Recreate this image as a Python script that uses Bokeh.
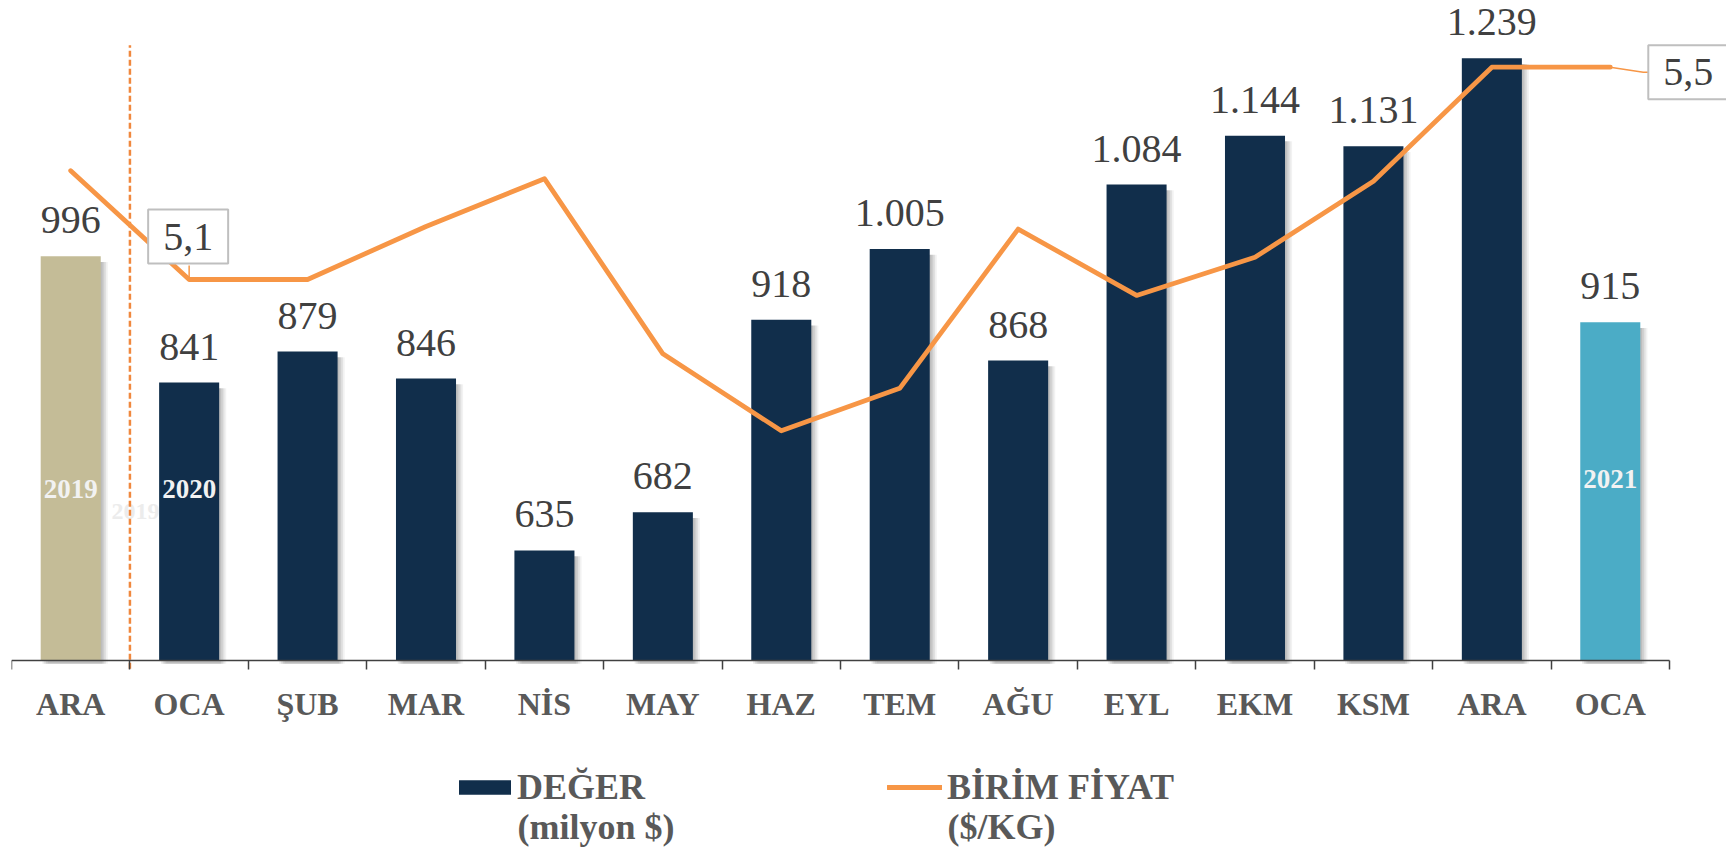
import numpy as np
from bokeh.plotting import figure
from bokeh.models import (Range1d, LinearAxis, FixedTicker, ColumnDataSource,
                          Legend, LegendItem, Label)
from bokeh.core.properties import value
from bokeh.embed import file_html
from bokeh.resources import INLINE

# ---------------- data ----------------
months = ["ARA", "OCA", "ŞUB", "MAR", "NİS", "MAY", "HAZ", "TEM",
          "AĞU", "EYL", "EKM", "KSM", "ARA", "OCA"]
values = [996, 841, 879, 846, 635, 682, 918, 1005, 868, 1084, 1144, 1131, 1239, 915]
prices = [5.305, 5.10, 5.10, 5.20, 5.29, 4.96, 4.815, 4.895, 5.195, 5.07, 5.142, 5.285, 5.50, 5.50]
bar_colors = ["#c4bc97"] + ["#112e4b"] * 12 + ["#4bacc6"]
year_labels = ["2019", "2020", "2021"]
year_label_index = [0, 1, 13]
year_label_y = [711, 711, 723]
labeled_price_index = [1, 13]
value_series_name = "DEĞER\n(milyon $)"
price_series_name = "BİRİM FİYAT\n($/KG)"

FONT = "Liberation Serif"
NAVY_TXT = "#404040"
AXIS_TXT = "#595959"
ORANGE = "#f79646"

n = len(months)
xs = np.arange(n) + 0.5
BASE = 500
H = 850
Y_LO, Y_HI = 500 - (H - 660) / 0.815, 1300
P_LO, P_HI = 5.1 - (H - 279) / 530.8, 5.6106
X_HI = n + 57 / (1658 / n)
PX_X = 1658 / n                       # screen px per x unit
PX_P = (H - 8) / (P_HI - P_LO)        # screen px per price unit

p = figure(width=1726, height=H, x_range=Range1d(0, X_HI), y_range=Range1d(Y_LO, Y_HI),
           output_backend="svg", toolbar_location=None,
           x_axis_location=None, y_axis_location=None,
           min_border_left=11, min_border_right=0, min_border_top=8, min_border_bottom=0,
           outline_line_color=None)
p.grid.visible = False
p.extra_y_ranges = {"price": Range1d(P_LO, P_HI)}

fmt_vals = [f"{v:,}".replace(",", ".") for v in values]
src = ColumnDataSource(dict(x=xs, top=values, color=bar_colors, label=fmt_vals))

# ghost year label behind the bars
p.text(x=[xs[0] + 0.547], y=[683], text=[year_labels[0]], text_align="center",
       text_baseline="middle", text_font=value(FONT), text_font_style="bold",
       text_font_size="24px", text_color="#ececec")

# bar shadows
vals = np.array(values)
for off, a in [(0.06, 0.05), (0.045, 0.07), (0.03, 0.08), (0.015, 0.08)]:
    p.vbar(x=xs + off, top=vals - 7, bottom=BASE - 4, width=0.507, fill_color="black",
           fill_alpha=a, line_color=None)

bars_r = p.vbar(x="x", top="top", bottom=BASE, width=0.507, fill_color="color",
                line_color=None, source=src)

# value labels
p.text(x="x", y="top", text="label", source=src, text_align="center",
       text_baseline="alphabetic", y_offset=-36, text_font=value(FONT),
       text_font_size="40px", text_color=NAVY_TXT)

# year labels inside bars
p.text(x=xs[year_label_index], y=year_label_y, text=year_labels, text_align="center",
       text_baseline="middle", text_font=value(FONT), text_font_style="bold",
       text_font_size="27px", text_color="#f2f2f2")

# dashed year divider
p.segment(x0=[xs[0] + 0.5], y0=[BASE - 10], x1=[xs[0] + 0.5], y1=[1255],
          line_color="#f0883e", line_width=2.5, line_dash="6 3")

# price line
line_r = p.line(xs, prices, y_range_name="price", line_color=ORANGE, line_width=4.8,
                line_join="round", line_cap="round")

# leader lines for price labels
i0, i1 = labeled_price_index
p.segment(x0=[xs[i0]], y0=[prices[i0]], x1=[xs[i0]], y1=[prices[i0] + 14 / PX_P],
          y_range_name="price", line_color=ORANGE, line_width=1.5)
p.line(x=[xs[i1], xs[i1] + 33 / PX_X, xs[i1] + 40 / PX_X],
       y=[prices[i1], prices[i1] - 5 / PX_P, prices[i1] - 5 / PX_P],
       y_range_name="price", line_color=ORANGE, line_width=1.5)

def price_label(i, xo, yo):
    return Label(x=xs[i], y=prices[i], y_range_name="price",
                 text=f"{prices[i]:.1f}".replace(".", ","),
                 x_offset=xo, y_offset=yo, text_align="center", text_baseline="middle",
                 text_font=FONT, text_font_size="40px", text_color=NAVY_TXT,
                 background_fill_color="white", border_line_color="#bfbfbf",
                 border_line_width=2, padding=(15, 14))

p.add_layout(price_label(i0, -1, 43))
p.add_layout(price_label(i1, 78, -5))

# x axis at the value baseline
ax = LinearAxis(ticker=FixedTicker(ticks=[float(x) for x in xs],
                                   minor_ticks=[float(b) for b in range(n + 1)]),
                major_label_overrides={float(x): m for x, m in zip(xs, months)},
                fixed_location=BASE, bounds=(0, n),
                axis_line_color="#404040", axis_line_width=1.5,
                major_tick_out=0, major_tick_in=0,
                minor_tick_out=9, minor_tick_in=0,
                minor_tick_line_color="#404040", minor_tick_line_width=1.5,
                major_label_standoff=16,
                major_label_text_font=FONT, major_label_text_font_style="bold",
                major_label_text_font_size="32px", major_label_text_color=AXIS_TXT)
p.add_layout(ax, "below")

# legend (frame-relative screen positions, measured from the frame bottom)
dy = H - 844
v1, v2 = value_series_name.split("\n")
q1, q2 = price_series_name.split("\n")
common = dict(orientation="horizontal", padding=0, margin=0, border_line_color=None,
              background_fill_alpha=0, label_text_font=FONT, label_text_font_style="bold",
              label_text_font_size="36px", label_text_color=AXIS_TXT, spacing=0)
leg1 = Legend(items=[LegendItem(label=v1, renderers=[bars_r], index=1)],
              location=(441, 36 + dy), glyph_width=65, glyph_height=18, label_standoff=0,
              **common)
leg2 = Legend(items=[LegendItem(label=q1, renderers=[line_r])],
              location=(876, 36 + dy), glyph_width=55, glyph_height=14, label_standoff=5,
              **common)
p.add_layout(leg1)
p.add_layout(leg2)
for txt, x in [(v2, 506), (q2, 936)]:
    p.add_layout(Label(x=x, y=18 + dy, x_units="screen", y_units="screen", text=txt,
                       text_baseline="alphabetic", text_font=FONT, text_font_style="bold",
                       text_font_size="36px", text_color=AXIS_TXT))

open("out.html", "w").write(file_html(p, INLINE))
